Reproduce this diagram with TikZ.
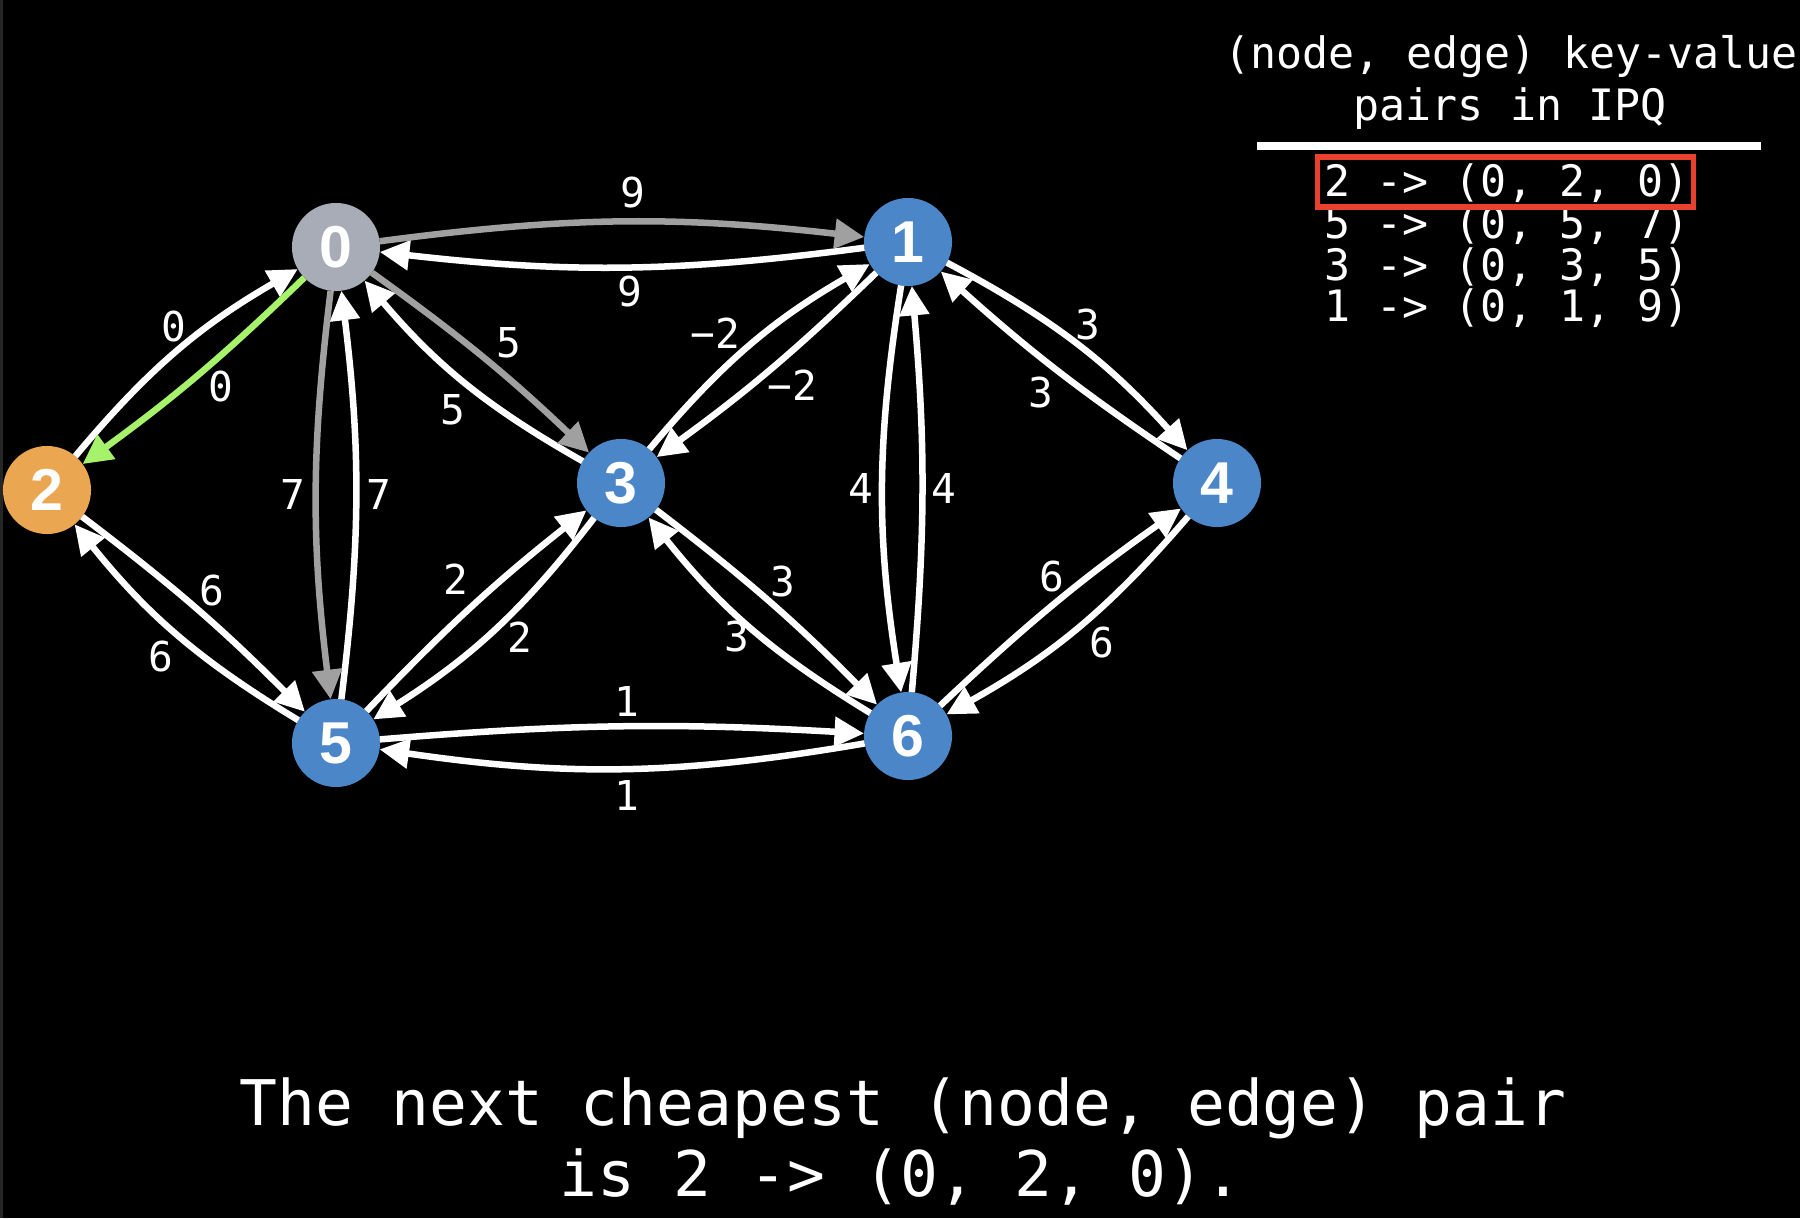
\documentclass[tikz,border=0pt]{standalone}
\usepackage{fontspec}
\setmainfont{Liberation Sans}
\newfontfamily\codefont{DejaVu Sans Mono}
\usetikzlibrary{arrows.meta}
\definecolor{nodeblue}{RGB}{74,134,200}
\definecolor{nodegray}{RGB}{168,172,182}
\definecolor{nodeorange}{RGB}{235,166,82}
\definecolor{edgegray}{RGB}{160,160,160}
\definecolor{edgegreen}{RGB}{166,242,106}
\definecolor{boxred}{RGB}{232,65,46}
\tikzset{vert/.style={circle, fill=#1, minimum size=0.88cm, inner sep=0pt, outer sep=0pt, text=white, font=\fontsize{16.8}{18}\selectfont\bfseries},
%blue unless told otherwise
vert/.default=nodeblue,
edge/.style={draw=#1, line width=1.85pt, -{Triangle[length=8.4pt,width=8.2pt]}},
edge/.default=white,
weight/.style={text=white, inner sep=0pt, font=\codefont\fontsize{11.7}{13}\selectfont},
ipq/.style={text=white, inner sep=0pt, anchor=base, font=\codefont\fontsize{12.3}{14}\selectfont},
caption/.style={text=white, inner sep=0pt, anchor=base, font=\codefont\fontsize{17.9}{20}\selectfont}}

\begin{document}
\begin{tikzpicture}[x=0.01cm, y=-0.01cm]

\fill[black] (0,0) rectangle (1800,1218);
\fill[black!85!white] (0,0) rectangle (3,1218);
\useasboundingbox (0,0) rectangle (1800,1218);

% graph nodes
\foreach \i/\x/\y/\c in {0/336/247/nodegray, 1/908/242/nodeblue, 2/47/490/nodeorange,
    3/621/483/nodeblue, 4/1217/483/nodeblue, 5/336/743/nodeblue, 6/908/736/nodeblue}
    \node[vert=\c] (\i) at (\x,\y) {\i};

% directed edges, negative bend = bend right
\foreach \a/\b/\t in {1/0/7, 2/0/10, 3/0/10, 5/0/-7, 5/2/10, 2/5/4, 3/1/10, 1/3/4,
    5/3/4, 3/5/10, 3/6/4, 6/3/10, 1/6/-9, 6/1/-5, 1/4/10, 4/1/4, 6/4/4, 4/6/10, 5/6/4, 6/5/9}
    \draw[edge] (\a) to[bend left=\t] (\b);

\foreach \a/\b/\t in {0/1/7, 0/3/4, 0/5/-7}
    \draw[edge=edgegray] (\a) to[bend left=\t] (\b);

\draw[edge=edgegreen] (0) to[bend left=4] (2);

% edge weights
\foreach \x/\y/\w [count=\n] in {633/193/9, 630/292/9, 174/327/0, 221/387/0, 509/343/5, 453/410/5,
    293/494/7, 379/494/7, 212/591/6, 161/657/6, 715/333/{−2}, 792/385/{−2}, 456/579/2, 520/637/2,
    783/582/3, 737/637/3, 861/488/4, 944/488/4, 1088/325/3, 1041/393/3, 1052/577/6, 1102/643/6,
    627/701/1, 627/795/1}
    \node[weight] (w\n) at (\x,\y) {\w};

% IPQ table
\node[ipq] (h1) at (1511,68) {(node, edge) key-value};
\node[ipq] (h2) at (1510,120) {pairs in IPQ};
\coordinate (rulel) at (1257,146);
\coordinate (ruler) at (1761,146);
\draw[white, line width=2pt] (rulel) -- (ruler);

\foreach \t [count=\r] in {{2 -> (0, 2, 0)}, {5 -> (0, 5, 7)}, {3 -> (0, 3, 5)}, {1 -> (0, 1, 9)}}
    \node[ipq] (r\r) at (1507,155+41.7*\r) {\t};

\node[draw=boxred, line width=1.6pt, minimum width=3.76cm, minimum height=0.5cm, inner sep=0pt] (pick) at (1505.5,182) {};

% caption
\node[caption] (cap1) at (903,1125) {The next cheapest (node, edge) pair};
\node[caption] (cap2) at (901,1196) {is 2 -> (0, 2, 0).};

\end{tikzpicture}
\end{document}
